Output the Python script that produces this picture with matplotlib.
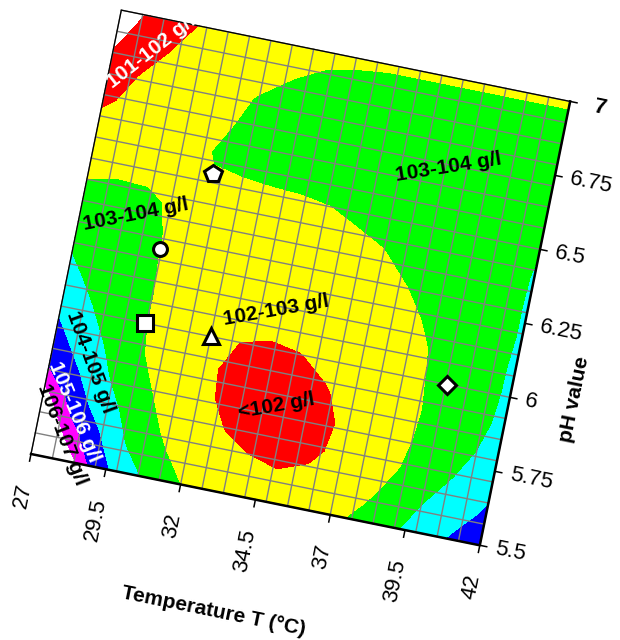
import numpy as np
import matplotlib
matplotlib.use("Agg")
import matplotlib.pyplot as plt
from matplotlib.transforms import Affine2D
from matplotlib.patches import Polygon

plt.rcParams['font.family'] = ['Liberation Sans', 'DejaVu Sans']

# response surface: concentration (g/l) over temperature (columns) and pH (rows)
temperature = [27, 28, 29, 30, 31, 32, 33, 34, 35, 36, 37, 38, 39, 40, 41, 42]
ph = [5.5, 5.6, 5.7, 5.8, 5.9, 6.0, 6.1, 6.2, 6.3, 6.4, 6.5, 6.6, 6.7, 6.8, 6.9, 7.0]
conc = [
    [110.0, 108.33, 105.64, 104.52, 103.66, 102.98, 102.58, 102.36, 102.30, 102.43, 102.73, 103.23, 103.79, 104.41, 105.06, 105.50],
    [109.5, 106.48, 105.13, 103.90, 103.15, 102.63, 102.25, 102.08, 102.02, 102.08, 102.25, 102.78, 103.38, 104.02, 104.58, 105.12],
    [107.6, 105.45, 104.51, 103.54, 102.87, 102.30, 102.01, 101.87, 101.83, 101.92, 102.11, 102.45, 103.02, 103.60, 104.15, 104.75],
    [105.85, 104.98, 104.00, 103.20, 102.69, 102.12, 101.89, 101.77, 101.76, 101.87, 102.09, 102.50, 102.92, 103.36, 103.84, 104.38],
    [105.30, 104.48, 103.70, 102.99, 102.58, 102.09, 101.88, 101.79, 101.81, 101.95, 102.19, 102.56, 102.89, 103.29, 103.73, 104.18],
    [104.79, 104.06, 103.46, 102.93, 102.62, 102.18, 101.99, 101.93, 101.98, 102.14, 102.45, 102.69, 102.93, 103.30, 103.70, 104.12],
    [104.25, 103.76, 103.28, 102.96, 102.70, 102.45, 102.25, 102.18, 102.22, 102.33, 102.52, 102.72, 102.97, 103.34, 103.70, 104.10],
    [103.92, 103.60, 103.28, 102.93, 102.72, 102.55, 102.43, 102.38, 102.40, 102.50, 102.65, 102.82, 103.10, 103.41, 103.73, 104.05],
    [103.52, 103.35, 103.17, 102.95, 102.80, 102.69, 102.62, 102.60, 102.62, 102.70, 102.83, 103.01, 103.26, 103.52, 103.78, 104.04],
    [103.12, 103.09, 103.05, 102.96, 102.88, 102.82, 102.79, 102.78, 102.80, 102.88, 102.995, 103.20, 103.41, 103.61, 103.82, 104.02],
    [102.71, 102.90, 102.93, 102.93, 102.95, 102.96, 102.96, 102.96, 102.99, 103.10, 103.25, 103.40, 103.54, 103.69, 103.83, 103.98],
    [102.29, 102.47, 102.65, 102.83, 103.03, 103.06, 103.10, 103.14, 103.20, 103.28, 103.36, 103.44, 103.52, 103.60, 103.70, 103.80],
    [101.85, 102.19, 102.43, 102.67, 102.92, 103.12, 103.22, 103.30, 103.35, 103.40, 103.44, 103.48, 103.51, 103.54, 103.56, 103.58],
    [101.33, 101.99, 102.25, 102.51, 102.77, 103.04, 103.20, 103.28, 103.32, 103.35, 103.37, 103.38, 103.38, 103.38, 103.38, 103.38],
    [100.87, 101.49, 102.05, 102.28, 102.51, 102.74, 102.97, 103.10, 103.15, 103.17, 103.17, 103.17, 103.17, 103.17, 103.17, 103.17],
    [100.56, 101.11, 101.75, 102.15, 102.38, 102.57, 102.73, 102.85, 102.90, 102.93, 102.93, 102.93, 102.93, 102.93, 102.93, 102.93],
]

levels = [101, 102, 103, 104, 105, 106, 107]
band_colors = ['#ff0000', '#ffff00', '#00ff00', '#00ffff', '#0000ff', '#ff00ff']

t_ticks = [27, 29.5, 32, 34.5, 37, 39.5, 42]
t_labels = ['27', '29.5', '32', '34.5', '37', '39.5', '42']
ph_ticks = [5.5, 5.75, 6.0, 6.25, 6.5, 6.75, 7.0]
ph_labels = ['5.5', '5.75', '6', '6.25', '6.5', '6.75', '7']

# experimental runs (T, pH, marker)
runs_t = [29.8, 29.8, 32.0, 39.9, 31.0]
runs_ph = [6.25, 6.0, 6.0, 6.0, 6.53]
runs_marker = ['o', 's', '^', 'D', 'p']
runs_size = [10, 11, 12, 9.5, 13]

# band labels: text, T, pH, angle, colour
band_text = ['103-104 g/l', '103-104 g/l', '102-103 g/l', '<102 g/l',
             '101-102 g/l', '104-105 g/l', '105-106 g/l', '106-107 g/l']
band_t = [38.54, 28.8, 33.93, 34.57, 28.23, 28.31, 28.13, 27.86]
band_ph = [6.706, 6.347, 6.129, 5.817, 6.887, 5.837, 5.665, 5.582]
band_rot = [9, 11, 10, 10, 38, -70, -67.5, -69]
band_col = ['black', 'black', 'black', 'black', 'white', 'black', 'white', 'black']

T0, T1, P0, P1 = 27, 42, 5.5, 7.0
ANGLE = -11.5

fig = plt.figure(figsize=(6.2, 6.4), dpi=100)
ax = fig.add_axes([0, 0, 1, 1])
ax.set_xlim(-1.0154, 19.29)
ax.set_ylim(-6.092, 14.87)
ax.axis('off')

# the whole plot area is tilted: pH is stretched so both axes span a square
rot = Affine2D().translate(-T0, -P0).scale(1, 10 * 453 / 458).rotate_deg(ANGLE)
tr = rot + ax.transData

ax.contourf(temperature, ph, conc, levels=levels, colors=band_colors,
            transform=tr, zorder=1)

# mesh
for t in np.linspace(T0, T1, 22):
    ax.plot([t, t], [P0, P1], color='#808080', lw=1.0, transform=tr, zorder=2)
for p in np.linspace(P0, P1, 22):
    ax.plot([T0, T1], [p, p], color='#808080', lw=1.0, transform=tr, zorder=2)

# frame: thin on left/top, heavy on bottom/right
ax.plot([T0, T0, T1], [P0, P1, P1], color='black', lw=0.9, transform=tr, zorder=3)
ax.plot([T0, T1, T1], [P0, P0, P1], color='black', lw=1.8, transform=tr, zorder=3,
        solid_capstyle='projecting')

for t, lab in zip(t_ticks, t_labels):
    ax.plot([t, t], [P0, P0 - 0.024], color='black', lw=1.1, transform=tr, zorder=3)
    ax.text(t, P0 - 0.1, lab, fontsize=16, rotation=90 + ANGLE, rotation_mode='anchor',
            ha='right', va='center', transform=tr)

for p, lab in zip(ph_ticks, ph_labels):
    ax.plot([T1, T1 + 0.23], [p, p], color='black', lw=1.1, transform=tr, zorder=3)
    if lab == '7':
        ax.text(T1 + 0.8, p, lab, fontsize=16, fontweight='bold', rotation=ANGLE,
                rotation_mode='anchor', ha='left', va='center', transform=tr)
    else:
        ax.text(T1 + 0.5, p, lab, fontsize=16, rotation=ANGLE, rotation_mode='anchor',
                ha='left', va='center', transform=tr)

ax.text(33.9, 5.11, 'Temperature T (\u00b0C)', fontsize=15, fontweight='bold',
        rotation=ANGLE, rotation_mode='anchor', ha='center', va='center', transform=tr)
ax.text(44.07, 6.035, 'pH value', fontsize=15, fontweight='bold',
        rotation=90 + ANGLE, rotation_mode='anchor', ha='center', va='center', transform=tr)

clip = Polygon([(T0, P0), (T1, P0), (T1, P1), (T0, P1)], closed=True,
               transform=tr, facecolor='none', edgecolor='none')
ax.add_patch(clip)

for txt, t, p, r, c in zip(band_text, band_t, band_ph, band_rot, band_col):
    h = ax.text(t, p, txt, fontsize=15, fontweight='bold', color=c, rotation=r,
                rotation_mode='anchor', ha='center', va='center', transform=tr, zorder=4)
    if txt.startswith('101'):
        h.set_clip_path(clip)

for t, p, m, s in zip(runs_t, runs_ph, runs_marker, runs_size):
    ax.plot([t], [p], marker=m, ms=s, mfc='white', mec='black', mew=2.2,
            ls='none', transform=tr, zorder=5)

fig.savefig('out.png', dpi=100)
